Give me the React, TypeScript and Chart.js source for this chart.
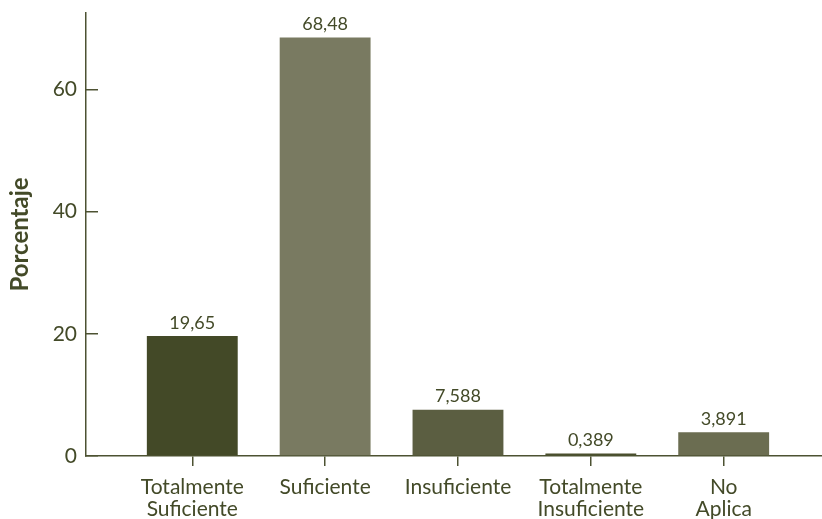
import React, { useEffect, useRef } from "react";
import { Chart, registerables } from "chart.js";

Chart.register(...registerables);

const categories: string[][] = [
  ["Totalmente", "Suficiente"],
  ["Suficiente"],
  ["Insuficiente"],
  ["Totalmente", "Insuficiente"],
  ["No", "Aplica"],
];
const values: number[] = [19.65, 68.48, 7.588, 0.389, 3.891];
const valueLabels: string[] = ["19,65", "68,48", "7,588", "0,389", "3,891"];
const barColors: string[] = ["#434927", "#797a61", "#5b5e41", "#4a4f2d", "#6b6d51"];
const yTicks: number[] = [0, 20, 40, 60];
const yTitle = "Porcentaje";

const TEXT = "#434a28";
const AXIS = "#4d5232";
const FONT = "Lato, 'Open Sans', sans-serif";

export default function App() {
  const ref = useRef<HTMLCanvasElement | null>(null);

  useEffect(() => {
    if (!ref.current) return;
    const labelPlugin = {
      id: "valueLabels",
      afterDatasetsDraw(chart: any) {
        const ctx = chart.ctx;
        const meta = chart.getDatasetMeta(0);
        ctx.save();
        ctx.font = `18px ${FONT}`;
        ctx.fillStyle = TEXT;
        ctx.textAlign = "center";
        ctx.textBaseline = "bottom";
        meta.data.forEach((el: any, i: number) => {
          ctx.fillText(valueLabels[i], el.x, el.y - 4);
        });
        ctx.restore();
      },
    };

    const chart = new Chart(ref.current, {
      type: "bar",
      data: {
        datasets: [
          {
            data: values.map((v, i) => ({ x: i, y: v })),
            backgroundColor: barColors,
            borderWidth: 0,
            barPercentage: 0.855,
            categoryPercentage: 0.8,
          },
        ],
      },
      options: {
        animation: false,
        responsive: true,
        maintainAspectRatio: false,
        layout: { padding: { top: 13, right: 0, left: 0, bottom: 0 } },
        plugins: {
          legend: { display: false },
          tooltip: { enabled: false },
        },
        scales: {
          x: {
            type: "linear",
            min: -0.8,
            max: 4.74,
            offset: false,
            afterBuildTicks: (axis: any) => {
              axis.ticks = categories.map((_, i) => ({ value: i }));
            },
            afterFit: (scale: any) => {
              scale.height = 63;
              scale.paddingLeft = 0;
              scale.paddingRight = 0;
            },
            grid: {
              offset: false,
              drawOnChartArea: false,
              drawTicks: true,
              tickLength: 10,
              color: AXIS,
              lineWidth: 1.5,
            },
            border: { display: true, color: AXIS, width: 1.5 },
            ticks: {
              autoSkip: false,
              maxRotation: 0,
              minRotation: 0,
              padding: 10,
              color: TEXT,
              font: { family: FONT, size: 21, lineHeight: 1.05 },
              callback: (value: any) => {
                const i = Math.round(Number(value));
                return categories[i] ?? "";
              },
            },
          },
          y: {
            min: 0,
            max: 72.5,
            afterBuildTicks: (axis: any) => {
              axis.ticks = yTicks.map((v) => ({ value: v }));
            },
            afterFit: (scale: any) => {
              scale.width = 86;
              scale.paddingTop = 0;
              scale.paddingBottom = 0;
            },
            grid: {
              drawOnChartArea: false,
              drawTicks: true,
              tickLength: -12,
              color: AXIS,
              lineWidth: 1.5,
            },
            border: { display: true, color: AXIS, width: 1.5 },
            ticks: {
              padding: 21,
              color: TEXT,
              font: { family: FONT, size: 21 },
            },
            title: {
              display: true,
              text: yTitle,
              color: TEXT,
              padding: { top: 6, bottom: 0 },
              font: { family: FONT, size: 24, weight: "bold" },
            },
          },
        },
      },
      plugins: [labelPlugin],
    });
    return () => chart.destroy();
  }, []);

  return (
    <div style={{ position: "fixed", left: 0, top: 0, width: 822, height: 519 }}>
      <canvas ref={ref} />
    </div>
  );
}
